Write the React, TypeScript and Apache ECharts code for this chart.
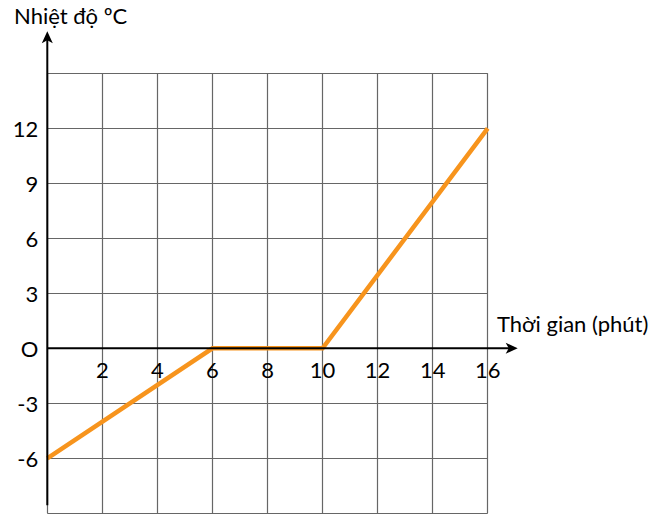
import React from 'react';
import * as echarts from 'echarts';

// dữ liệu
const timeMinutes = [0, 6, 10, 16];
const temperatures = [-6, 0, 0, 12];
const xTickValues = [2, 4, 6, 8, 10, 12, 14, 16];
const yTickValues = [-6, -3, 0, 3, 6, 9, 12];
const yTickLabels = ['-6', '-3', 'O', '3', '6', '9', '12'];
const yAxisTitle = 'Nhiệt độ ºC';
const xAxisTitle = 'Thời gian (phút)';

const FONT = 'Lato';
const ORANGE = '#f7941d';

export default function App() {
  const chartRef = React.useRef<HTMLDivElement>(null);

  React.useEffect(() => {
    document.body.style.margin = '0';
    if (!chartRef.current) return;
    const chart = echarts.init(chartRef.current, undefined, { renderer: 'svg' });

    const option: any = {
      animation: false,
      backgroundColor: '#fff',
      grid: { left: 47.3, top: 73.3, width: 440.4, height: 440, outerBoundsMode: 'none', containLabel: false },
      xAxis: {
        type: 'value',
        min: 0,
        max: 16,
        interval: 2,
        axisLine: { show: false, onZero: false },
        axisTick: { show: false },
        axisLabel: {
          margin: 10,
          fontFamily: FONT,
          fontSize: 22,
          color: '#000',
          formatter: (v: number) => (xTickValues.includes(v) ? String(v) : ''),
        },
        splitLine: { show: true, lineStyle: { color: '#666', width: 1.2 } },
      },
      yAxis: {
        type: 'value',
        min: -9,
        max: 15,
        interval: 3,
        axisLine: { show: false },
        axisTick: { show: false },
        axisLabel: {
          margin: 9,
          fontFamily: FONT,
          fontSize: 22,
          color: '#000',
          formatter: (v: number) => {
            const i = yTickValues.indexOf(v);
            return i >= 0 ? yTickLabels[i] : '';
          },
        },
        splitLine: { show: true, lineStyle: { color: '#666', width: 1.2 } },
      },
      series: [
        {
          type: 'line',
          data: timeMinutes.map((t, i) => [t, temperatures[i]]),
          symbol: 'none',
          lineStyle: { color: ORANGE, width: 4.5, join: 'miter' },
          z: 5,
        },
      ],
    };
    chart.setOption(option);

    // trục có mũi tên, vị trí lấy từ thang đo
    const o = chart.convertToPixel({ gridIndex: 0 }, [0, 0]) as number[];
    const xEnd = chart.convertToPixel({ gridIndex: 0 }, [16, 0]) as number[];
    const yTop = chart.convertToPixel({ gridIndex: 0 }, [0, 15]) as number[];
    const yBot = chart.convertToPixel({ gridIndex: 0 }, [0, -9]) as number[];
    const xTip = xEnd[0] + 30;
    const yTip = yTop[1] - 42;

    chart.setOption({
      // nhãn trục hoành nằm ngay dưới đường y = 0
      xAxis: { offset: o[1] - yBot[1] },
      graphic: [
        {
          type: 'line',
          shape: { x1: o[0], y1: o[1], x2: xTip - 8, y2: o[1] },
          style: { stroke: '#000', lineWidth: 2 },
          z: 10,
        },
        {
          type: 'polygon',
          shape: {
            points: [
              [xTip, o[1]],
              [xTip - 12, o[1] - 5.5],
              [xTip - 9, o[1]],
              [xTip - 12, o[1] + 5.5],
            ],
          },
          style: { fill: '#000' },
          z: 10,
        },
        {
          type: 'line',
          shape: { x1: o[0], y1: yBot[1] - 8, x2: o[0], y2: yTip + 8 },
          style: { stroke: '#000', lineWidth: 2 },
          z: 10,
        },
        {
          type: 'polygon',
          shape: {
            points: [
              [o[0], yTip],
              [o[0] + 5.5, yTip + 12],
              [o[0], yTip + 9],
              [o[0] - 5.5, yTip + 12],
            ],
          },
          style: { fill: '#000' },
          z: 10,
        },
        {
          type: 'text',
          x: 14,
          y: 15.5,
          style: {
            text: yAxisTitle,
            font: `22px ${FONT}`,
            fill: '#000',
            textAlign: 'left',
            textVerticalAlign: 'middle',
          },
          z: 10,
        },
        {
          type: 'text',
          x: 497,
          y: 323.5,
          style: {
            text: xAxisTitle,
            font: `22px ${FONT}`,
            fill: '#000',
            textAlign: 'left',
            textVerticalAlign: 'middle',
          },
          z: 10,
        },
      ],
    });

    return () => {
      chart.dispose();
    };
  }, []);

  return <div ref={chartRef} style={{ width: 657, height: 523 }} />;
}
